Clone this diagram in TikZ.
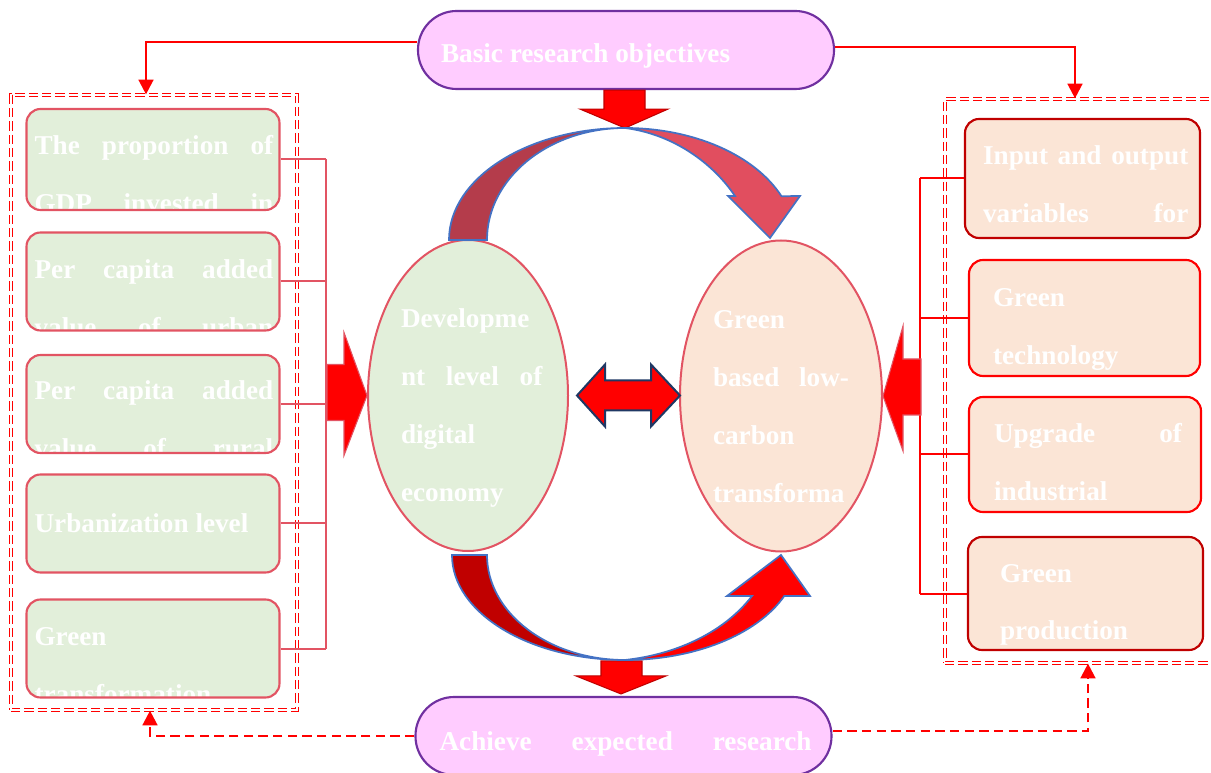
\documentclass[tikz,border=0pt]{standalone}
\usepackage{fontspec}
\setmainfont{Liberation Serif}
\usetikzlibrary{arrows.meta,shapes.geometric}
\definecolor{lgreen}{HTML}{E2EFDA}
\definecolor{peach}{HTML}{FBE5D6}
\definecolor{pinkf}{HTML}{FFCCFF}
\definecolor{purp}{HTML}{7030A0}
\definecolor{rose}{RGB}{226,84,99}
\definecolor{dred}{HTML}{C00000}
\definecolor{arcblue}{HTML}{4472C4}
\definecolor{navy}{HTML}{1F3864}
\definecolor{arcdark}{RGB}{180,60,75}
\definecolor{arclight}{RGB}{225,78,95}
\begin{document}
\begin{tikzpicture}[
x=0.75pt,
y=-0.75pt,
wtxt/.style={%
shape=rectangle,
minimum width=0pt,
minimum height=0pt,
sharp corners,
inner sep=0pt,
anchor=base west,
text=white,
font=\bfseries\fontsize{20.4pt}{43.5pt}\selectfont,
},
jw/.style={%
text width=#1,
align=justify,
execute at begin node={\parfillskip=0pt\tolerance=10000\hbadness=10000\hyphenpenalty=10000},
},
intext/.style n args={4}{%
path picture={\node[wtxt,#3]at([shift={(#1,#2)}]path picture bounding box.north west){#4};},
},
lbox/.style={%
draw=rose,
line width=1.6pt,
rounded corners=10.5pt,
fill=lgreen,
minimum width=189.75pt,
minimum height=73.5pt,
},
rbox/.style={%
draw=red,
line width=1.6pt,
rounded corners=10.5pt,
fill=peach,
},
pill/.style={%
draw=purp,
line width=1.6pt,
fill=pinkf,
rounded corners=29pt,
minimum width=312pt,
minimum height=58.5pt,
},
oval/.style={%
draw=rose,
ellipse,
line width=1.5pt,
minimum height=233.25pt,
},
frm/.style={%
draw=red,
dash pattern=on 7pt off 3pt,
double=white,
double distance=1.3pt,
line width=0.9pt,
},
link/.style={%
draw=red,
line width=1.8pt,
arrows=-{Triangle[length=11pt,width=11pt]},
},
bus/.style={%
line width=1.5pt,
},
blk/.style={%
fill=red,
line width=0.8pt,
},
curv/.style={%
draw=arcblue,
line width=1.3pt,
}
]
\useasboundingbox (0,0) rectangle (1211,773);
%% Frames
\node[frm, minimum width=214.5pt, minimum height=461.25pt]at(154,402.5)(lfrm){};
\node[frm, minimum width=202.5pt, minimum height=423pt]at(1080,381)(rfrm){};
%% Objectives
\node[pill, intext={22}{52}{}{Basic research objectives}]at(626,50)(obj){};
\node[pill, intext={23}{53}{jw=279pt}{Achieve expected research}]at(623.5,736)(goal){};
%% Indicators of the digital economy
\node[lbox, minimum height=75.75pt, intext={7}{46}{jw=179pt}{The proportion of\linebreak GDP invested in}]at(153,159.5)(l1){};
\node[lbox, intext={7}{46}{jw=179pt}{Per capita added\linebreak value of urban}]at(153,281.5)(l2){};
\node[lbox, intext={7}{45}{jw=179pt}{Per capita added\linebreak value of rural}]at(153,404)(l3){};
\node[lbox, intext={7}{58}{}{Urbanization level}]at(153,523.5)(l4){};
\node[lbox, intext={7}{46}{jw=179pt}{Green\linebreak transformation}]at(153,648.5)(l5){};
%% Indicators of the transformation
\node[rbox, draw=dred, minimum width=176.25pt, minimum height=89.25pt, intext={17}{46}{jw=154pt}{Input and output\linebreak variables for}]at(1082.5,178.5)(r1){};
\node[rbox, minimum width=173.25pt, minimum height=87pt, intext={23}{47}{jw=141pt}{Green\linebreak technology}]at(1084.5,318)(r2){};
\node[rbox, minimum width=174pt, minimum height=86.25pt, intext={24}{46}{jw=141pt}{Upgrade of\linebreak industrial}]at(1085,454.5)(r3){};
\node[rbox, draw=dred, minimum width=176.25pt, minimum height=84.75pt, intext={31}{45}{jw=141pt}{Green\linebreak production}]at(1085.5,593.5)(r4){};
%% Core variables
\node[oval, fill=lgreen, minimum width=150pt, intext={32}{88}{jw=106pt}{Developme\linebreak nt level of\linebreak digital\linebreak economy}]at(468,395.5)(dig){};
\node[oval, fill=peach, minimum width=151.5pt, intext={32}{88}{jw=102pt}{Green\linebreak based low-\linebreak carbon\linebreak transforma}]at(781,396)(grn){};
%% Links
\draw[link]([shift={(0,-8)}]obj.west)-|([shift={(-8,0)}]lfrm.north);
\draw[link]([shift={(0,-3)}]obj.east)-|([shift={(-5,0)}]rfrm.north);
\draw[link, dash pattern=on 7pt off 4pt](goal.west)-|([shift={(-4,0)}]lfrm.south);
\draw[link, dash pattern=on 7pt off 4pt]([shift={(0,-5)}]goal.east)-|([shift={(8,0)}]rfrm.south);
%% Buses
\coordinate(lb)at(326,0);
\coordinate(rb)at(920,0);
\foreach \i in{1,...,5}{%
\draw[bus, draw=rose](l\i.east)--(l\i.east-|lb);
}
\draw[bus, draw=rose](l1.east-|lb)--(l5.east-|lb);
\foreach \i in{1,...,4}{%
\draw[bus, draw=red](r\i.west)--(r\i.west-|rb);
}
\draw[bus, draw=red](r1.west-|rb)--(r4.west-|rb);
%% Block arrows
\draw[blk, draw=rose](dig.west)--++(-23,-63)--++(0,32)--++(-17,0)--++(0,56)--++(17,0)--++(0,35)--cycle;
\draw[blk, draw=rose](grn.east)--++(20,-70)--++(0,33)--++(18,0)--++(0,56)--++(-18,0)--++(0,36)--cycle;
\draw[blk, draw=navy, line width=1.5pt]([shift={(8,0)}]dig.east)--++(28,-31)--++(0,16)--++(46,0)--++(0,-16)--++(29,31)
--++(-29,31)--++(0,-16)--++(-46,0)--++(0,16)--cycle;
\draw[blk, draw=dred]([shift={(-22,0)}]obj.south)--++(41,0)--++(0,19)--++(23,0)--++(-43,19)--++(-45,-19)--++(24,0)--cycle;
\draw[blk, draw=dred]([shift={(-2.5,-2)}]goal.north)--++(45,-18)--++(-24,0)--++(0,-15)--++(-41,0)--++(0,15)--++(-25,0)--cycle;
%% Curved arrows
\draw[curv, fill=arclight](625,128)arc[start angle=90, end angle=23, x radius=127.5pt, y radius=84pt]
--(800,196)--(770,238)--(728,196)--(735,196)..controls(712,162)and(672,134)..(625,128)--cycle;
\draw[curv, fill=arcdark](449,240)arc[start angle=180, end angle=90, x radius=132pt, y radius=84pt]
arc[start angle=90, end angle=180, x radius=103.5pt, y radius=84pt]--cycle;
\draw[curv, fill=red](625,660)arc[start angle=270, end angle=337, x radius=129.75pt, y radius=78.75pt]
--(810,596)--(781,555)--(727,596)--(752,596)..controls(726,630)and(680,654)..(625,660)--cycle;
\draw[curv, fill=dred](452,555)arc[start angle=180, end angle=270, x radius=129.75pt, y radius=78.75pt]
arc[start angle=270, end angle=180, x radius=103.5pt, y radius=78.75pt]--cycle;
\end{tikzpicture}
\end{document}
